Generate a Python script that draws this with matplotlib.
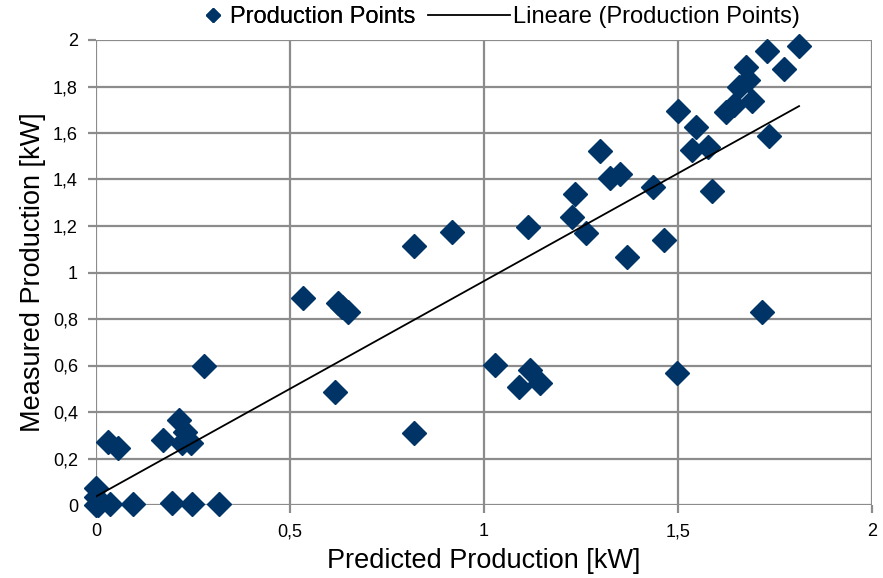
import numpy as np
import matplotlib
matplotlib.use("Agg")
import matplotlib.pyplot as plt
from matplotlib.lines import Line2D
from matplotlib.ticker import FuncFormatter

plt.rcParams['font.family'] = ['Liberation Sans', 'DejaVu Sans']

# predicted vs measured production [kW]
predicted = [0.0, 0.0, 0.0, 0.005, 0.036, 0.095, 0.196, 0.247, 0.317,
             0.03, 0.057, 0.173, 0.214, 0.23, 0.222, 0.245, 0.278,
             0.534, 0.624, 0.634, 0.649, 0.616, 0.82, 0.82, 0.918,
             1.028, 1.09, 1.119, 1.144, 1.113, 1.227, 1.235, 1.263,
             1.3, 1.325, 1.351, 1.369, 1.436, 1.464, 1.497, 1.5,
             1.536, 1.546, 1.577, 1.588, 1.624, 1.644, 1.657, 1.675,
             1.68, 1.69, 1.716, 1.729, 1.735, 1.773, 1.812]
measured = [0.073, 0.035, 0.0, 0.0, 0.004, 0.004, 0.008, 0.004, 0.004,
            0.271, 0.245, 0.28, 0.365, 0.314, 0.267, 0.267, 0.6,
            0.89, 0.869, 0.852, 0.83, 0.486, 1.114, 0.31, 1.174,
            0.602, 0.507, 0.58, 0.525, 1.196, 1.24, 1.338, 1.17,
            1.523, 1.406, 1.424, 1.067, 1.368, 1.14, 0.568, 1.695,
            1.527, 1.626, 1.54, 1.35, 1.69, 1.72, 1.798, 1.884,
            1.828, 1.738, 0.83, 1.953, 1.587, 1.875, 1.974]

x = np.array(predicted)
y = np.array(measured)
slope, intercept = np.polyfit(x, y, 1)
xl = np.array([x.min(), x.max()])

navy = '#003366'
fig = plt.figure(figsize=(8.83, 5.78), dpi=100)
ax = fig.add_axes([96/883, 1 - 505/578, 776/883, 465/578])

ax.plot(x, y, linestyle='none', marker='D', markersize=12,
        color=navy, markeredgecolor=navy, zorder=3, clip_on=False)
ax.plot(xl, slope * xl + intercept, color='black', linewidth=1.3, zorder=4)

ax.set_xlim(0, 2)
ax.set_ylim(0, 2)
ax.set_xticks([0, 0.5, 1, 1.5, 2])
ax.set_yticks(np.arange(0, 2.01, 0.2))
fmt = FuncFormatter(lambda v, p: ('%g' % round(v, 2)).replace('.', ','))
ax.xaxis.set_major_formatter(fmt)
ax.yaxis.set_major_formatter(fmt)

ax.grid(True, color='#8c8c8c', linewidth=1.6)
ax.set_axisbelow(True)
for s in ax.spines.values():
    s.set_visible(False)
ax.tick_params(axis='both', length=6, width=1.6, color='#8c8c8c',
               labelsize=13, pad=7)

ax.set_xlabel('Predicted Production [kW]', fontsize=19.5, labelpad=6)
ax.set_ylabel('Measured Production [kW]', fontsize=19.5, labelpad=5)

# legend: two separate entries to get the spacing of the original
h1 = Line2D([], [], linestyle='none', marker='D', markersize=7,
            color=navy, markeredgecolor=navy)
h2 = Line2D([], [], color='black', linewidth=1.3)
leg1 = fig.legend([h1], ['Production Points'], loc='center left',
                  bbox_to_anchor=(201/883, 1 - 17/578), frameon=False,
                  fontsize=17, handlelength=1.0, handletextpad=0.22,
                  borderpad=0, borderaxespad=0)
leg2 = fig.legend([h2], ['Lineare (Production Points)'], loc='center left',
                  bbox_to_anchor=(428/883, 1 - 17/578), frameon=False,
                  fontsize=17, handlelength=3.47, handletextpad=0.13,
                  borderpad=0, borderaxespad=0)
fig.add_artist(leg1)

fig.savefig('out.png', dpi=100)
